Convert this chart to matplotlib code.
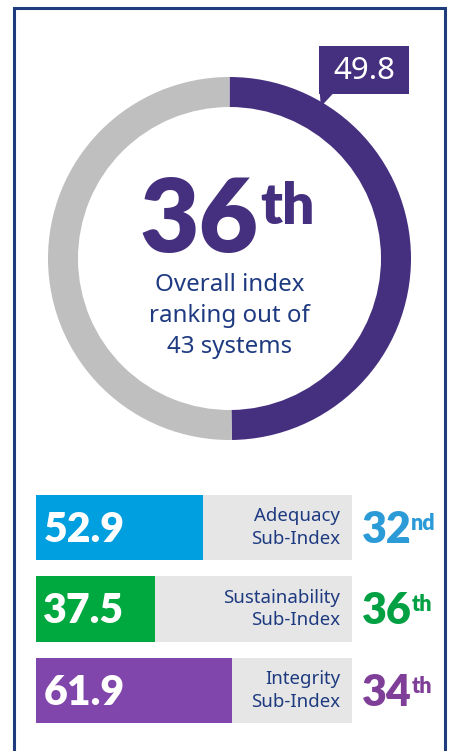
import matplotlib.pyplot as plt
from matplotlib.patches import Rectangle, Polygon

# overall index
overall_score = 49.8
overall_rank = "36"
overall_suffix = "th"
overall_text = ["Overall index", "ranking out of", "43 systems"]

# sub-indices
sub_names = ["Adequacy\nSub-Index", "Sustainability\nSub-Index", "Integrity\nSub-Index"]
sub_values = [52.9, 37.5, 61.9]
sub_ranks = ["32", "36", "34"]
sub_suffix = ["nd", "th", "th"]
bar_colors = ["#009fe0", "#00a940", "#8146ab"]
rank_colors = ["#2b9bd8", "#00a043", "#7f3f98"]

PURPLE = "#45307f"
NAVY = "#1e3a80"
W, H = 449, 751

fig = plt.figure(figsize=(W / 100, H / 100), dpi=100)
fig.patch.set_facecolor("white")

def px_axes(x0, y0, x1, y1):
    return fig.add_axes([x0 / W, 1 - y1 / H, (x1 - x0) / W, (y1 - y0) / H])

# frame
fig.patches.append(Rectangle((14 / W, -0.05), (445 - 14) / W, 1.05 - 8 / H,
                             transform=fig.transFigure, fill=False,
                             edgecolor="#1f3c7c", linewidth=2.2))

# donut
cx, cy, r = 229.5, 258.5, 181.5
ax = px_axes(cx - r, cy - r, cx + r, cy + r)
ax.pie([overall_score, 100 - overall_score], colors=[PURPLE, "#bfbfbf"],
       startangle=90, counterclock=False, radius=1,
       wedgeprops=dict(width=30 / r, linewidth=0))
ax.set_xlim(-1, 1)
ax.set_ylim(-1, 1)
ax.axis("off")

# value callout
bx0, by0, bx1, by1 = (319 - cx) / r, (cy - 94) / r, (409 - cx) / r, (cy - 46) / r
ax.add_patch(Rectangle((bx0, by0), bx1 - bx0, by1 - by0, facecolor=PURPLE,
                       edgecolor="none", clip_on=False))
ax.add_patch(Polygon([(bx0 + 0.005, by0), (bx0 + 0.075, by0), (bx0 + 0.01, by0 - 0.07)],
                     facecolor=PURPLE, edgecolor="none", clip_on=False))
ax.text((bx0 + bx1) / 2, (by0 + by1) / 2 - 0.005, f"{overall_score}", color="white",
        fontsize=22.5, ha="center", va="center", family="Noto Sans", clip_on=False)

# center rank
t = ax.text((259 - cx) / r, (cy - 252) / r, overall_rank, color=PURPLE, fontsize=74,
            fontweight="heavy", family="Lato", ha="right", va="baseline")
ax.annotate(overall_suffix, xy=(1, 1), xycoords=t, xytext=(1, -4),
            textcoords="offset points", color=PURPLE, fontsize=41,
            fontweight="heavy", family="Lato", ha="left", va="top")
for i, line in enumerate(overall_text):
    ax.text(0, (cy - (285 + 31 * i)) / r, line, color=NAVY, fontsize=17.3,
            family="Noto Sans", ha="center", va="center")

# sub-index bars
bx = px_axes(36, 495, 352, 723)
ypos = list(range(len(sub_values)))
bx.barh(ypos, [100] * 3, height=0.8, color="#e6e6e6", linewidth=0)
bx.barh(ypos, sub_values, height=0.8, color=bar_colors, linewidth=0)
bx.set_xlim(0, 100)
bx.set_ylim(2.4, -0.4)
bx.axis("off")
for y, v, name, rk, sf, rc in zip(ypos, sub_values, sub_names, sub_ranks, sub_suffix, rank_colors):
    bx.text(2.3, y + 0.03, f"{v}", color="white", fontsize=29.5, fontweight="heavy",
            family="Lato", ha="left", va="center")
    bx.text(96.3, y, name, color=NAVY, fontsize=13.4, family="Noto Sans",
            ha="right", va="center", linespacing=1.3)
    rt = bx.text(103.0, y + 0.03, rk, color=rc, fontsize=31, fontweight="heavy",
                 family="Lato", ha="left", va="center", clip_on=False)
    bx.annotate(sf, xy=(1, 1), xycoords=rt, xytext=(0, -2),
                textcoords="offset points", color=rc, fontsize=15.5,
                fontweight="heavy", family="Lato", ha="left", va="top")

fig.savefig("out.png", dpi=100)
